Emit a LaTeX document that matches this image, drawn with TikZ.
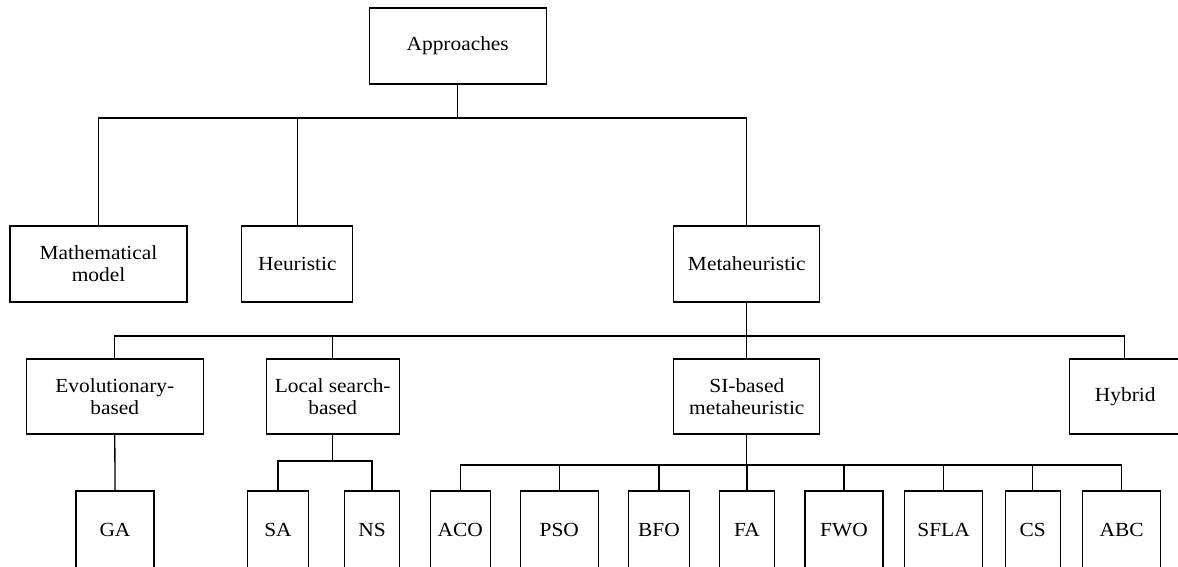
\documentclass[tikz,border=0pt]{standalone}
\usepackage{fontspec}
\setmainfont{Liberation Serif}[FakeStretch=1.07]
\begin{document}
\begin{tikzpicture}[x=1pt,y=-1pt,
  box/.style={draw,line width=1.1pt,inner sep=0pt,align=center,font=\fontsize{20}{22}\selectfont},
  lnk/.style={line width=1.3pt}]
\useasboundingbox (0,0) rectangle (1178,566);
\clip (0,0) rectangle (1178,566);
% level 0
\node[box,minimum width=177,minimum height=76] (app) at (457.7,46) {Approaches};
% level 1
\node[box,minimum width=177,minimum height=76] (math) at (98.5,264) {Mathematical\\model};
\node[box,minimum width=111,minimum height=76] (heur) at (297.3,264) {Heuristic};
\node[box,minimum width=146,minimum height=76] (meta) at (746.8,264) {Metaheuristic};
% level 2
\node[box,minimum width=177,minimum height=75] (evo) at (114.8,396.5) {Evolutionary-\\based};
\node[box,minimum width=133,minimum height=75] (loc) at (332.7,396.5) {Local search-\\based};
\node[box,minimum width=146,minimum height=75] (si) at (746.8,396.5) {SI-based\\metaheuristic};
\node[box,minimum width=112,minimum height=75] (hyb) at (1125.3,396.5) {Hybrid};
% level 3
\node[box,minimum width=78,minimum height=78] (ga) at (115,530) {GA};
\node[box,minimum width=61,minimum height=78] (sa) at (278,530) {SA};
\node[box,minimum width=55,minimum height=78] (ns) at (372,530) {NS};
\node[box,minimum width=60.5,minimum height=78] (aco) at (460.3,530) {ACO};
\node[box,minimum width=78,minimum height=78] (pso) at (559.3,530) {PSO};
\node[box,minimum width=61,minimum height=78] (bfo) at (659,530) {BFO};
\node[box,minimum width=55.5,minimum height=78] (fa) at (747,530) {FA};
\node[box,minimum width=78,minimum height=78] (fwo) at (844,530) {FWO};
\node[box,minimum width=78,minimum height=78] (sfla) at (943.6,530) {SFLA};
\node[box,minimum width=55,minimum height=78] (cs) at (1032.6,530) {CS};
\node[box,minimum width=78,minimum height=78] (abc) at (1121.6,530) {ABC};
% connectors
\foreach \c in {math,heur,meta}
  \draw[lnk] (app.south) -- (app.south |- 0,118) -| (\c.north);
\foreach \c in {evo,loc,si}
  \draw[lnk] (meta.south) -- (meta.south |- 0,336) -| (\c.north);
\draw[lnk] (meta.south) -- (meta.south |- 0,336) -| (1124.4,359);
\draw[lnk] (evo.south) -- (ga.north);
\foreach \c in {sa,ns}
  \draw[lnk] (loc.south) -- (loc.south |- 0,461) -| (\c.north);
\foreach \c in {aco,pso,bfo,fa,fwo,sfla,cs,abc}
  \draw[lnk] (si.south) -- (si.south |- 0,465) -| (\c.north);
\end{tikzpicture}
\end{document}
